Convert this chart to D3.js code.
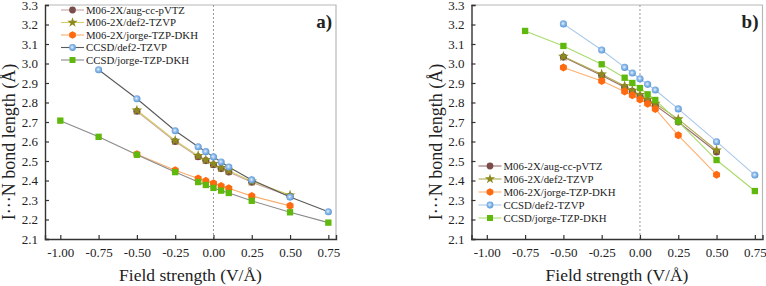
<!DOCTYPE html>
<html>
<head>
<meta charset="utf-8">
<script src="https://cdn.jsdelivr.net/npm/d3@7"></script>
<style>
  body { margin: 0; background: #fff; }
  svg text { fill: #222; }
</style>
</head>
<body>
<div id="vis"></div>
<script>
const fields = [-1.0, -0.75, -0.5, -0.25, -0.1, -0.05, 0, 0.05, 0.1, 0.25, 0.5, 0.75];
const seriesNames = [
  "M06-2X/aug-cc-pVTZ",
  "M06-2X/def2-TZVP",
  "M06-2X/jorge-TZP-DKH",
  "CCSD/def2-TZVP",
  "CCSD/jorge-TZP-DKH",
];
const yTicks = [2.1, 2.2, 2.3, 2.4, 2.5, 2.6, 2.7, 2.8, 2.9, 3.0, 3.1, 3.2, 3.3];
const xTicks = [-1.0, -0.75, -0.5, -0.25, 0, 0.25, 0.5, 0.75];

// panel a) values, null where no point, order follows fields
const a_augpVTZ = [null, null, 2.755, 2.600, 2.522, 2.502, 2.481, 2.461, 2.444, 2.391, 2.319, null];
const a_def2M06 = [null, null, 2.760, 2.605, 2.527, 2.506, 2.486, 2.466, 2.450, 2.396, 2.325, null];
const a_jorgeM06 = [null, null, 2.535, 2.452, 2.410, 2.398, 2.386, 2.372, 2.360, 2.320, 2.270, null];
const a_def2CCSD = [null, 2.968, 2.819, 2.655, 2.573, 2.548, 2.521, 2.495, 2.469, 2.403, 2.315, 2.240];
const a_jorgeCCSD = [2.707, 2.624, 2.532, 2.443, 2.392, 2.377, 2.362, 2.348, 2.336, 2.296, 2.237, 2.184];

// panel b)
const b_augpVTZ = [null, null, 3.033, 2.938, 2.878, 2.857, 2.833, 2.809, 2.785, 2.700, 2.546, null];
const b_def2M06 = [null, null, 3.036, 2.945, 2.885, 2.862, 2.840, 2.815, 2.795, 2.715, 2.555, null];
const b_jorgeM06 = [null, null, 2.980, 2.910, 2.857, 2.837, 2.816, 2.794, 2.767, 2.632, 2.430, null];
const b_def2CCSD = [null, null, 3.203, 3.069, 2.980, 2.951, 2.922, 2.893, 2.864, 2.767, 2.599, 2.428];
const b_jorgeCCSD = [null, 3.167, 3.090, 2.996, 2.927, 2.900, 2.874, 2.842, 2.813, 2.702, 2.505, 2.346];

const markerFill = ["#7a4c4c", "#8c8a1c", "#ff6a10", "url(#ball)", "#5fb80c"];
const aLines = ["#c9a3a3", "#d6cc6a", "#f7ad6e", "#5a5a5a", "#8a8a8a"];
const bLines = ["#9a7070", "#b0aa50", "#ffb070", "#a8c8ec", "#a8dc6c"];

const hexagon = {
  draw(context, size) {
    const r = Math.sqrt(size / 2.6);
    for (let i = 0; i < 6; i++) {
      const a = (Math.PI / 3) * i + Math.PI / 6;
      const px = r * Math.cos(a), py = r * Math.sin(a);
      if (i === 0) context.moveTo(px, py); else context.lineTo(px, py);
    }
    context.closePath();
  },
};
const shapes = [d3.symbolCircle, d3.symbolStar, hexagon, d3.symbolCircle, d3.symbolSquare];
const sizes = [40, 36, 42, 40, 40];

const serif = "Liberation Serif";

const svg = d3.select("#vis").append("svg").attr("width", 766).attr("height", 286);

const defs = svg.append("defs");
const grad = defs.append("radialGradient").attr("id", "ball")
  .attr("cx", "45%").attr("cy", "45%").attr("r", "60%");
grad.append("stop").attr("offset", "0%").attr("stop-color", "#e4f0fc");
grad.append("stop").attr("offset", "45%").attr("stop-color", "#8dbbea");
grad.append("stop").attr("offset", "100%").attr("stop-color", "#4f8fd0");

function drawPanel(left, label, series, lineColors, legendPos) {
  const width = 291, height = 234, top = 5;
  const g = svg.append("g").attr("transform", `translate(${left},${top})`);
  const x = d3.scaleLinear().domain([-1.1, 0.8]).range([0, width]);
  const y = d3.scaleLinear().domain([2.1, 3.3]).range([height, 0]);

  // top and right frame
  g.append("path")
    .attr("d", `M0,0H${width}V${height}`)
    .attr("fill", "none").attr("stroke", "#b8b8b8").attr("stroke-width", 1.2);

  g.append("line")
    .attr("x1", x(0)).attr("x2", x(0)).attr("y1", 0).attr("y2", height)
    .attr("stroke", "#9a9a9a").attr("stroke-dasharray", "2,2");

  const yAxis = g.append("g").call(
    d3.axisLeft(y).tickValues(yTicks).tickSize(-4).tickPadding(7).tickFormat(d3.format(".1f"))
  );
  const xAxis = g.append("g").attr("transform", `translate(0,${height})`).call(
    d3.axisBottom(x).tickValues(xTicks).tickSize(-4).tickPadding(9).tickFormat(d3.format(".2f"))
  );
  [yAxis, xAxis].forEach((ax) => {
    ax.attr("font-family", serif).attr("font-size", 13);
    ax.select(".domain").attr("stroke", "#333").attr("stroke-width", 1.4);
    ax.selectAll(".tick line").attr("stroke", "#333").attr("stroke-width", 1.2);
    ax.selectAll("text").attr("fill", "#222");
  });
  xAxis.selectAll("text").text((d) => (d < 0 ? "-" : "") + d3.format(".2f")(Math.abs(d)));

  const line = d3.line()
    .defined((d) => d[1] !== null)
    .x((d) => x(d[0])).y((d) => y(d[1]));

  series.forEach((vals, i) => {
    const pts = fields.map((f, j) => [f, vals[j]]);
    g.append("path").datum(pts)
      .attr("d", line).attr("fill", "none")
      .attr("stroke", lineColors[i]).attr("stroke-width", 1.1);
  });
  series.forEach((vals, i) => {
    const pts = fields.map((f, j) => [f, vals[j]]).filter((d) => d[1] !== null);
    g.selectAll(null).data(pts).join("path")
      .attr("transform", (d) => `translate(${x(d[0])},${y(d[1])})`)
      .attr("d", d3.symbol(shapes[i], sizes[i]))
      .attr("fill", markerFill[i]);
  });

  // legend
  const lg = g.append("g").attr("transform", `translate(${legendPos[0]},${legendPos[1]})`);
  seriesNames.forEach((name, i) => {
    const row = lg.append("g").attr("transform", `translate(0,${i * legendPos[2]})`);
    row.append("line").attr("x1", 0).attr("x2", 23)
      .attr("stroke", lineColors[i]).attr("stroke-width", 1.1);
    row.append("path").attr("transform", "translate(11.5,0)")
      .attr("d", d3.symbol(shapes[i], sizes[i] * 0.9)).attr("fill", markerFill[i]);
    row.append("text").attr("x", 25).attr("y", 3.8)
      .attr("font-family", serif).attr("font-size", 10.8).text(name);
  });

  g.append("text").attr("x", width - 4).attr("y", 23)
    .attr("text-anchor", "end").attr("font-family", serif)
    .attr("font-size", 19).attr("font-weight", "bold")
    .text(label);

  g.append("text")
    .attr("x", width / 2).attr("y", height + 42)
    .attr("text-anchor", "middle").attr("font-family", serif).attr("font-size", 17.5)
    .text("Field strength (V/Å)");

  g.append("text")
    .attr("transform", "rotate(-90)")
    .attr("x", -137).attr("y", -30)
    .attr("text-anchor", "middle").attr("font-family", serif).attr("font-size", 18)
    .text("I···N bond length (Å)");
}

drawPanel(45, "a)",
  [a_augpVTZ, a_def2M06, a_jorgeM06, a_def2CCSD, a_jorgeCCSD], aLines, [16, 5, 12.5]);
drawPanel(471.5, "b)",
  [b_augpVTZ, b_def2M06, b_jorgeM06, b_def2CCSD, b_jorgeCCSD], bLines, [7, 161, 13]);
</script>
</body>
</html>
